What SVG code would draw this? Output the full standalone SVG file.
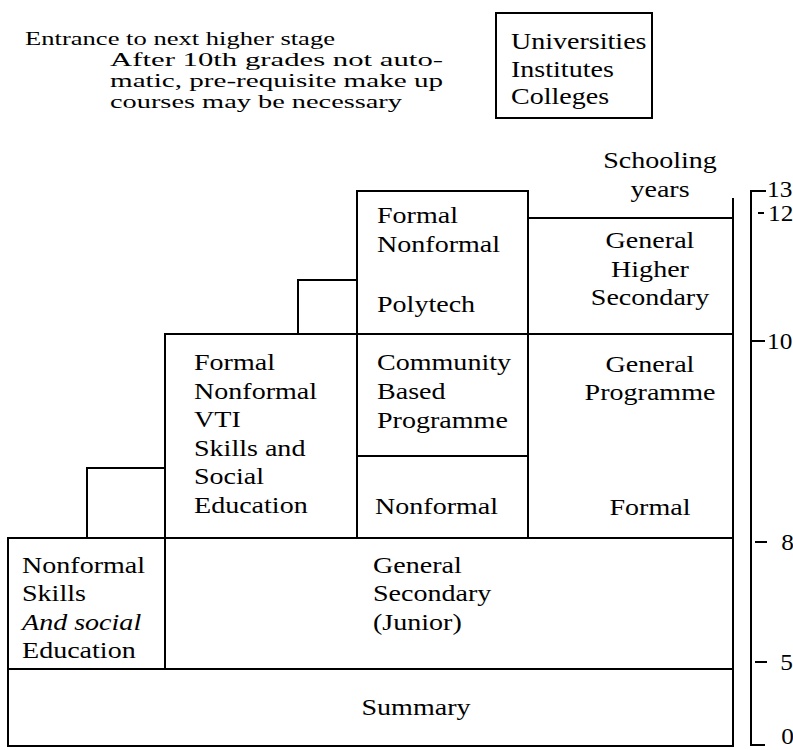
<svg xmlns="http://www.w3.org/2000/svg" width="793" height="750" viewBox="0 0 793 750">
<style>
  .bg{fill:#fff}
  .box{fill:none;stroke:#000;stroke-width:2}
  .ln{fill:none;stroke:#000;stroke-width:2}
  .t{font-family:"Liberation Serif","Times New Roman",serif;font-size:23px;fill:#000}
  .s{font-size:18.8px}
  .c{text-anchor:middle}
  .i{font-style:italic}
</style>
<rect class="bg" x="0" y="0" width="793" height="750"/>

<g id="note">
  <text class="t s" x="25" y="45" textLength="310" lengthAdjust="spacingAndGlyphs">Entrance to next higher stage</text>
  <text class="t s" x="110" y="66" textLength="333" lengthAdjust="spacingAndGlyphs">After 10th grades not auto-</text>
  <text class="t s" x="110" y="87" textLength="333" lengthAdjust="spacingAndGlyphs">matic, pre-requisite make up</text>
  <text class="t s" x="110" y="108" textLength="292" lengthAdjust="spacingAndGlyphs">courses may be necessary</text>
</g>

<g id="universities">
  <rect class="box" x="496" y="13" width="156" height="105"/>
  <text class="t" transform="translate(511,0) scale(1.22,1)"><tspan x="0" y="49">Universities</tspan><tspan x="0" y="77">Institutes</tspan><tspan x="0" y="104">Colleges</tspan></text>
</g>

<g id="schooling-years-label">
  <text class="t c" transform="translate(660,0) scale(1.22,1)"><tspan x="0" y="168">Schooling</tspan><tspan x="0" y="197">years</tspan></text>
</g>

<g id="polytech">
  <rect class="box" x="357" y="191" width="171" height="143"/>
  <text class="t" transform="translate(377,0) scale(1.22,1)"><tspan x="0" y="223">Formal</tspan><tspan x="0" y="252">Nonformal</tspan><tspan x="0" y="312">Polytech</tspan></text>
</g>

<g id="general-higher-secondary">
  <rect class="box" x="528" y="218" width="205" height="116"/>
  <path class="ln" d="M733,198 V218"/>
  <text class="t c" transform="translate(650,0) scale(1.22,1)"><tspan x="0" y="248">General</tspan><tspan x="0" y="277">Higher</tspan><tspan x="0" y="305">Secondary</tspan></text>
</g>

<g id="vti">
  <rect class="box" x="165" y="334" width="192" height="204"/>
  <text class="t" transform="translate(194,0) scale(1.22,1)"><tspan x="0" y="370">Formal</tspan><tspan x="0" y="399">Nonformal</tspan><tspan x="0" y="427">VTI</tspan><tspan x="0" y="456">Skills and</tspan><tspan x="0" y="484">Social</tspan><tspan x="0" y="513">Education</tspan></text>
</g>

<g id="community">
  <rect class="box" x="357" y="334" width="171" height="122"/>
  <text class="t" transform="translate(377,0) scale(1.22,1)"><tspan x="0" y="370">Community</tspan><tspan x="0" y="399">Based</tspan><tspan x="0" y="428">Programme</tspan></text>
</g>

<g id="nonformal-mid">
  <rect class="box" x="357" y="456" width="171" height="82"/>
  <text class="t" transform="translate(375,0) scale(1.22,1)"><tspan x="0" y="514">Nonformal</tspan></text>
</g>

<g id="general-programme">
  <rect class="box" x="528" y="334" width="205" height="204"/>
  <text class="t c" transform="translate(650,0) scale(1.22,1)"><tspan x="0" y="372">General</tspan><tspan x="0" y="400">Programme</tspan><tspan x="0" y="515">Formal</tspan></text>
</g>

<g id="nonformal-skills">
  <rect class="box" x="8" y="538" width="157" height="131"/>
  <text class="t" transform="translate(22,0) scale(1.22,1)"><tspan x="0" y="573">Nonformal</tspan><tspan x="0" y="601">Skills</tspan><tspan x="0" y="630" class="i">And social</tspan><tspan x="0" y="658">Education</tspan></text>
</g>

<g id="general-secondary-junior">
  <rect class="box" x="165" y="538" width="568" height="131"/>
  <text class="t" transform="translate(373,0) scale(1.22,1)"><tspan x="0" y="573">General</tspan><tspan x="0" y="601">Secondary</tspan><tspan x="0" y="630">(Junior)</tspan></text>
</g>

<g id="summary">
  <rect class="box" x="8" y="669" width="725" height="77"/>
  <text class="t c" transform="translate(416,0) scale(1.22,1)"><tspan x="0" y="715">Summary</tspan></text>
</g>

<g id="connectors">
  <path class="ln" d="M87,538 V468 H165"/>
  <path class="ln" d="M298,334 V280 H357"/>
</g>

<g id="scale">
  <path class="ln" d="M766,191 H751 V745 H765"/>
  <path class="ln" d="M758,213 H764 M752,341 H765 M755,542 H767 M755,662 H767"/>
  <text class="t" transform="translate(767,0) scale(1.1,1)"><tspan x="0" y="197">13</tspan><tspan x="1" y="221">12</tspan><tspan x="0" y="349">10</tspan><tspan x="13" y="550">8</tspan><tspan x="12" y="670">5</tspan><tspan x="13" y="744">0</tspan></text>
</g>
</svg>
